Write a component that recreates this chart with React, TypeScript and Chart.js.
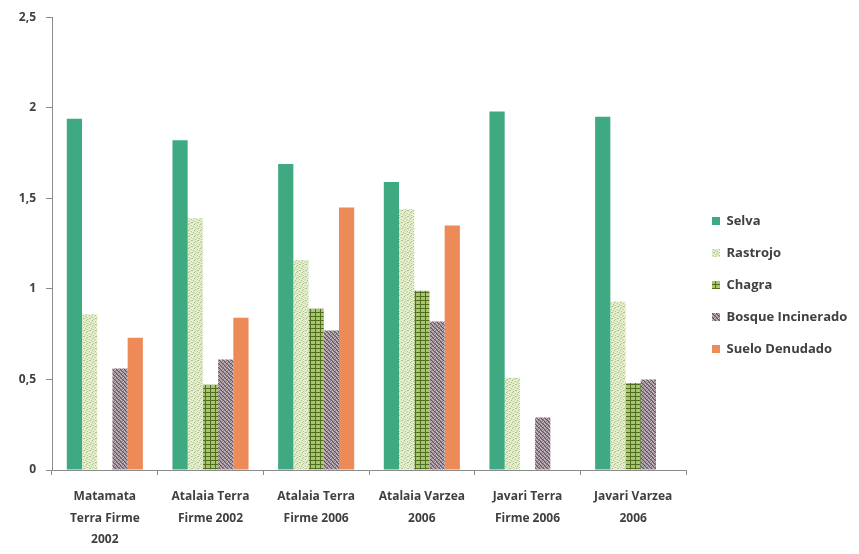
import React, { useEffect, useRef } from "react";
import { Chart, registerables } from "chart.js";

Chart.register(...registerables);

const categories: string[][] = [
  ["Matamata", "Terra Firme", "2002"],
  ["Atalaia Terra", "Firme 2002"],
  ["Atalaia Terra", "Firme 2006"],
  ["Atalaia Varzea", "2006"],
  ["Javari Terra", "Firme 2006"],
  ["Javari Varzea", "2006"],
];

const selva = [1.94, 1.82, 1.69, 1.59, 1.98, 1.95];
const rastrojo = [0.86, 1.39, 1.16, 1.44, 0.51, 0.93];
const chagra = [0, 0.47, 0.89, 0.99, 0, 0.48];
const bosqueIncinerado = [0.56, 0.61, 0.77, 0.82, 0.29, 0.5];
const sueloDenudado = [0.73, 0.84, 1.45, 1.35, 0, 0];

const yTicks = [0, 0.5, 1, 1.5, 2, 2.5];

// Build a repeating fill from a small character grid.
function makePattern(rows: string[], palette: Record<string, string>): CanvasPattern | string {
  const c = document.createElement("canvas");
  c.width = rows[0].length;
  c.height = rows.length;
  const ctx = c.getContext("2d");
  if (!ctx) return palette["."];
  rows.forEach((row, y) => {
    for (let x = 0; x < row.length; x++) {
      ctx.fillStyle = palette[row[x]];
      ctx.fillRect(x, y, 1, 1);
    }
  });
  const p = ctx.createPattern(c, "repeat");
  return p || palette["."];
}

// Widen the legend box and nudge its items away from the plot.
const legendPlacement = {
  id: "legendPlacement",
  afterInit(chart: any) {
    const legend = chart.legend;
    if (!legend) return;
    const fit = legend.fit.bind(legend);
    legend.fit = function () {
      fit();
      this.width = 173;
    };
  },
  afterLayout(chart: any) {
    const legend = chart.legend;
    if (!legend) return;
    legend.left += 7;
    legend.right += 7;
  },
};

export default function App() {
  const ref = useRef<HTMLCanvasElement | null>(null);

  useEffect(() => {
    if (!ref.current) return;

    const rastrojoFill = makePattern(
      ["a..b.a", ".b.a..", "..a..b", "b....a", ".a.b..", "...a.b"],
      { ".": "#dde8c6", a: "#b3c58e", b: "#f4f8ec" }
    );
    const chagraFill = makePattern(
      ["ddddd", "dyyyy", "dyyyy", "dyyyy"],
      { d: "#4f6e22", y: "#a9c66a", ".": "#7a9a3a" }
    );
    const bosqueFill = makePattern(
      ["mwmd", "dmmw", "mdwm", "wmdm"],
      { m: "#978790", w: "#cbc1c7", d: "#625260", ".": "#978790" }
    );

    const font = "'Open Sans', 'Liberation Sans', Arial, sans-serif";
    const textColor = "#404040";

    const chart = new Chart(ref.current, {
      type: "bar",
      data: {
        labels: categories,
        datasets: [
          { label: "Selva", data: selva, backgroundColor: "#3fa982" },
          { label: "Rastrojo", data: rastrojo, backgroundColor: rastrojoFill as any },
          { label: "Chagra", data: chagra, backgroundColor: chagraFill as any },
          { label: "Bosque Incinerado", data: bosqueIncinerado, backgroundColor: bosqueFill as any },
          { label: "Suelo Denudado", data: sueloDenudado, backgroundColor: "#ec8a58" },
        ],
      },
      plugins: [legendPlacement],
      options: {
        animation: false,
        responsive: false,
        maintainAspectRatio: false,
        layout: { padding: { top: 16, left: 0, right: 0, bottom: 0 } },
        datasets: { bar: { categoryPercentage: 0.72, barPercentage: 1.0 } },
        plugins: {
          tooltip: { enabled: false },
          legend: {
            position: "right",
            align: "center",
            labels: {
              boxWidth: 8,
              boxHeight: 8,
              padding: 19,
              color: textColor,
              font: { family: font, size: 13, weight: "bold" },
            },
          },
        },
        scales: {
          x: {
            grid: {
              display: true,
              drawOnChartArea: false,
              drawTicks: true,
              tickLength: 5,
              color: "#8a8a8a",
            },
            border: { display: true, color: "#8a8a8a", width: 1 },
            ticks: {
              color: textColor,
              padding: 11,
              maxRotation: 0,
              autoSkip: false,
              font: { family: font, size: 12, weight: "bold", lineHeight: 1.8 },
            },
            afterFit: (scale: any) => {
              scale.height = 84;
            },
          },
          y: {
            min: 0,
            max: 2.5,
            afterBuildTicks: (scale: any) => {
              scale.ticks = yTicks.map((v) => ({ value: v }));
            },
            grid: {
              display: true,
              drawOnChartArea: false,
              drawTicks: true,
              tickLength: 6,
              color: "#8a8a8a",
            },
            border: { display: true, color: "#8a8a8a", width: 1 },
            ticks: {
              color: textColor,
              padding: 10,
              font: { family: font, size: 12, weight: "bold" },
              callback: (v: any) => String(v).replace(".", ","),
            },
            afterFit: (scale: any) => {
              scale.width = 52;
            },
          },
        },
      },
    });

    return () => chart.destroy();
  }, []);

  return (
    <div style={{ position: "absolute", left: 0, top: 0, width: 859, height: 554, background: "#ffffff" }}>
      <canvas ref={ref} width={859} height={554} style={{ display: "block" }} />
    </div>
  );
}
